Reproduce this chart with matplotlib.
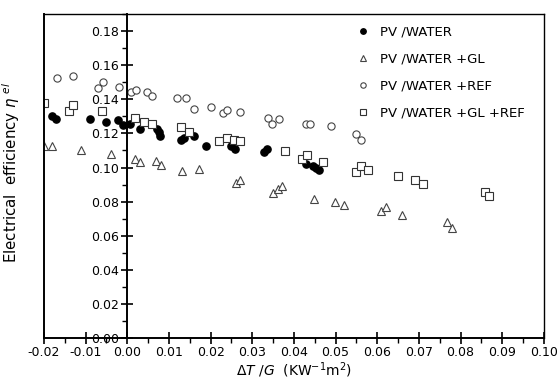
import numpy as np
import matplotlib
matplotlib.use("Agg")
import matplotlib.pyplot as plt
from matplotlib.ticker import MultipleLocator

# ---- data (x = dT/G, y = electrical efficiency) ----
pvw_x = [-0.0181, -0.0172, -0.0090, -0.0051, -0.0022, -0.0010, 0.0006, 0.0030,
         0.0072, 0.0075, 0.0078, 0.0128, 0.0136, 0.0161, 0.0188, 0.0248, 0.0258,
         0.0328, 0.0336, 0.0429, 0.0446, 0.0453, 0.0460]
pvw_y = [0.1303, 0.1285, 0.1286, 0.1268, 0.1276, 0.1247, 0.1256, 0.1224,
         0.1228, 0.1206, 0.1185, 0.1161, 0.1176, 0.1182, 0.1128, 0.1129, 0.1106,
         0.1090, 0.1106, 0.1022, 0.1008, 0.0998, 0.0984]

gl_x = [-0.0200, -0.0181, -0.0111, -0.0040, 0.0018, 0.0030, 0.0069, 0.0080,
        0.0131, 0.0171, 0.0261, 0.0270, 0.0350, 0.0362, 0.0371, 0.0448, 0.0498,
        0.0520, 0.0609, 0.0621, 0.0659, 0.0768, 0.0779]
gl_y = [0.1129, 0.1125, 0.1100, 0.1081, 0.1051, 0.1031, 0.1041, 0.1014,
        0.0982, 0.0994, 0.0912, 0.0929, 0.0853, 0.0874, 0.0894, 0.0818, 0.0797,
        0.0778, 0.0747, 0.0769, 0.0719, 0.0678, 0.0645]

ref_x = [-0.0170, -0.0130, -0.0070, -0.0059, -0.0021, 0.0008, 0.0020, 0.0047,
         0.0060, 0.0119, 0.0140, 0.0160, 0.0200, 0.0230, 0.0239, 0.0270, 0.0337,
         0.0348, 0.0364, 0.0429, 0.0438, 0.0489, 0.0549, 0.0560]
ref_y = [0.1528, 0.1538, 0.1465, 0.1503, 0.1475, 0.1443, 0.1455, 0.1444,
         0.1419, 0.1406, 0.1406, 0.1345, 0.1356, 0.1318, 0.1336, 0.1325, 0.1292,
         0.1258, 0.1286, 0.1253, 0.1253, 0.1243, 0.1194, 0.1159]

glref_x = [-0.0200, -0.0141, -0.0130, -0.0060, 0.0019, 0.0041, 0.0060, 0.0130,
           0.0149, 0.0219, 0.0239, 0.0256, 0.0270, 0.0378, 0.0419, 0.0431, 0.0469,
           0.0550, 0.0560, 0.0578, 0.0649, 0.0690, 0.0709, 0.0858, 0.0869]
glref_y = [0.1378, 0.1332, 0.1366, 0.1334, 0.1291, 0.1268, 0.1258, 0.1235,
           0.1206, 0.1157, 0.1172, 0.1163, 0.1155, 0.1094, 0.1051, 0.1074, 0.1032,
           0.0974, 0.1008, 0.0984, 0.0953, 0.0924, 0.0902, 0.0855, 0.0831]

labels = ["PV /WATER", "PV /WATER +GL", "PV /WATER +REF", "PV /WATER +GL +REF"]

plt.rcParams["font.family"] = ["DejaVu Sans"]
plt.rcParams["font.size"] = 9

fig = plt.figure(figsize=(5.6, 3.91), dpi=100)
ax = fig.add_axes([0.0786, 0.1355, 0.8925, 0.8285])

ms = 5.2
ax.plot(pvw_x, pvw_y, "o", color="black", ms=ms, label=labels[0])
ax.plot(gl_x, gl_y, "^", mfc="white", mec="#444444", mew=0.8, ms=ms, label=labels[1])
ax.plot(ref_x, ref_y, "o", mfc="white", mec="#444444", mew=0.8, ms=ms, label=labels[2])
ax.plot(glref_x, glref_y, "s", mfc="white", mec="#333333", mew=0.8, ms=ms, label=labels[3])

ax.set_xlim(-0.02, 0.10)
ax.set_ylim(0.0, 0.19)

# y axis sits at x = 0, frame kept around the whole plot
ax.spines["left"].set_position(("data", 0))
ax.spines["left"].set_linewidth(1.4)
ax.spines["bottom"].set_linewidth(1.4)
for s in ["top", "right"]:
    ax.spines[s].set_linewidth(1.0)
ax.axvline(-0.02, color="black", lw=1.4, clip_on=False)

ax.xaxis.set_major_locator(MultipleLocator(0.01))
ax.xaxis.set_minor_locator(MultipleLocator(0.005))
ax.yaxis.set_major_locator(MultipleLocator(0.02))
ax.yaxis.set_minor_locator(MultipleLocator(0.01))
ax.set_yticks(np.arange(0, 0.181, 0.02))
ax.xaxis.set_major_formatter(plt.FuncFormatter(lambda v, p: f"{v:.2f}"))
ax.yaxis.set_major_formatter(plt.FuncFormatter(lambda v, p: f"{v:.2f}"))
ax.tick_params(axis="both", which="major", direction="inout", length=8, width=1.2)
ax.tick_params(axis="both", which="minor", direction="out", length=3.5, width=1.0)
ax.tick_params(axis="x", pad=2)
ax.tick_params(axis="y", pad=2)

ax.set_xlabel(r"$\Delta T$ /$G$  (KW$^{-1}$m$^2$)", fontsize=10, labelpad=1)
ax.set_ylabel(r"Electrical  efficiency $\eta$ $^{el}$", fontsize=10.8)
ax.yaxis.set_label_coords(-0.044, 0.51)

ax.legend(loc="upper right", frameon=False, markerscale=0.75, handletextpad=0.3,
          labelspacing=1.05, bbox_to_anchor=(0.985, 1.0), fontsize=9.5)

fig.savefig("out.png", dpi=100)
